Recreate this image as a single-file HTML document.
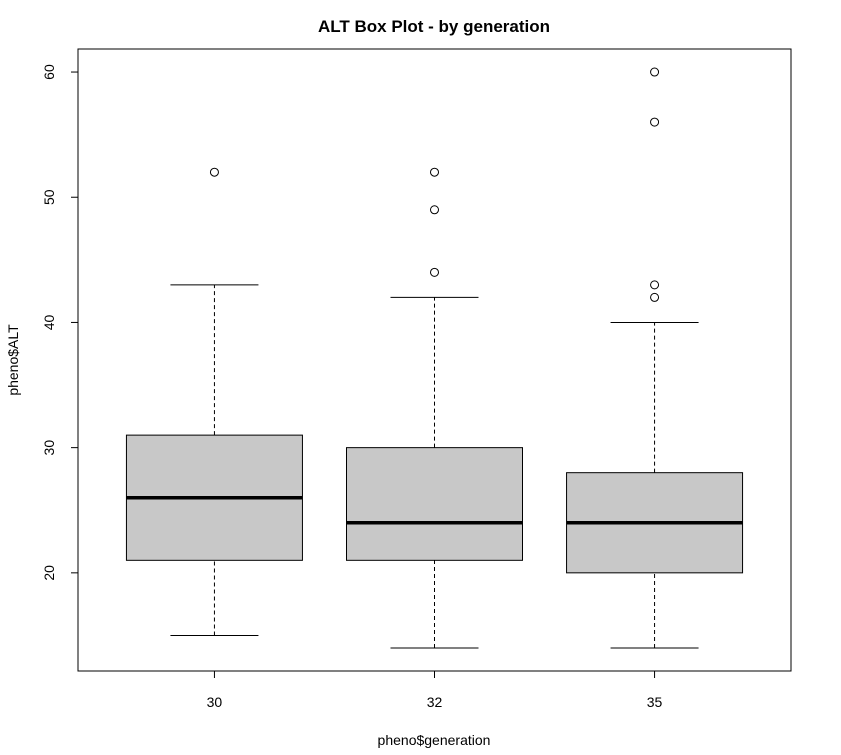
<!DOCTYPE html>
<html><head><meta charset="utf-8"><style>
body{margin:0;background:#fff;}
svg text{font-family:"Liberation Sans",Arial,sans-serif;}
</style></head><body>
<svg id="chart" width="841" height="750"></svg>
<script>
const categories=["30","32","35"];
const lowWhisker=[15,14,14];
const q1=[21,21,20];
const medians=[26,24,24];
const q3=[31,30,28];
const highWhisker=[43,42,40];
const outliers=[[52],[44,49,52],[42,43,56,60]];
const yTicks=[20,30,40,50,60];

const L=78,R=791,T=49,B=671;
const yMin=12.16,yMax=61.84,xMin=0.38,xMax=3.62;
const ys=v=>B-(v-yMin)/(yMax-yMin)*(B-T);
const xs=i=>L+(i+1-xMin)/(xMax-xMin)*(R-L);
const NS="http://www.w3.org/2000/svg";
const svg=document.getElementById('chart');
function mk(tag,attrs,parent){const e=document.createElementNS(NS,tag);for(const k in attrs)e.setAttribute(k,attrs[k]);(parent||svg).appendChild(e);return e;}

let t=mk('text',{x:434,y:32,'text-anchor':'middle','font-size':17,'font-weight':'bold'});t.textContent="ALT Box Plot - by generation";


let f=mk('rect',{x:L,y:T,width:R-L,height:B-T,fill:'none',stroke:'#000'});



const bw=176;
categories.forEach((c,i)=>{
  const x=xs(i);
  const g=mk('g',{});
  
  
  mk('line',{x1:x,x2:x,y1:ys(lowWhisker[i]),y2:ys(q1[i]),stroke:'#000','stroke-dasharray':'4,3'},g);
  mk('line',{x1:x,x2:x,y1:ys(q3[i]),y2:ys(highWhisker[i]),stroke:'#000','stroke-dasharray':'4,3'},g);
  mk('line',{x1:x-bw/4,x2:x+bw/4,y1:ys(lowWhisker[i]),y2:ys(lowWhisker[i]),stroke:'#000'},g);
  mk('line',{x1:x-bw/4,x2:x+bw/4,y1:ys(highWhisker[i]),y2:ys(highWhisker[i]),stroke:'#000'},g);
  mk('rect',{x:x-bw/2,y:ys(q3[i]),width:bw,height:ys(q1[i])-ys(q3[i]),fill:'#c8c8c8',stroke:'#000'},g);
  mk('line',{x1:x-bw/2,x2:x+bw/2,y1:ys(medians[i]),y2:ys(medians[i]),stroke:'#000','stroke-width':3.5},g);
  outliers[i].forEach(v=>{
    const o=mk('circle',{cx:x,cy:ys(v),r:4,fill:'none',stroke:'#000'},g);
    
    
  });
  mk('line',{x1:x,x2:x,y1:B,y2:B+7,stroke:'#000'});
  const lt=mk('text',{x:x,y:B+36,'text-anchor':'middle','font-size':14});lt.textContent=c;
  
  
});
mk('line',{x1:L,x2:L,y1:ys(yTicks[0]),y2:ys(yTicks[yTicks.length-1]),stroke:'#000'});
yTicks.forEach(v=>{
  mk('line',{x1:L-7,x2:L,y1:ys(v),y2:ys(v),stroke:'#000'});
  const tt=mk('text',{x:L-29,y:ys(v),'text-anchor':'middle','font-size':14,transform:`rotate(-90 ${L-29} ${ys(v)})`,dy:5});tt.textContent=v;
  
  
});
mk('line',{x1:xs(0),x2:xs(2),y1:B,y2:B,stroke:'#000'});
let xt=mk('text',{x:434,y:745,'text-anchor':'middle','font-size':14});xt.textContent="pheno$generation";


let yt=mk('text',{x:18,y:360,'text-anchor':'middle','font-size':14,transform:'rotate(-90 18 360)'});yt.textContent="pheno$ALT";


</script>
</body></html>
